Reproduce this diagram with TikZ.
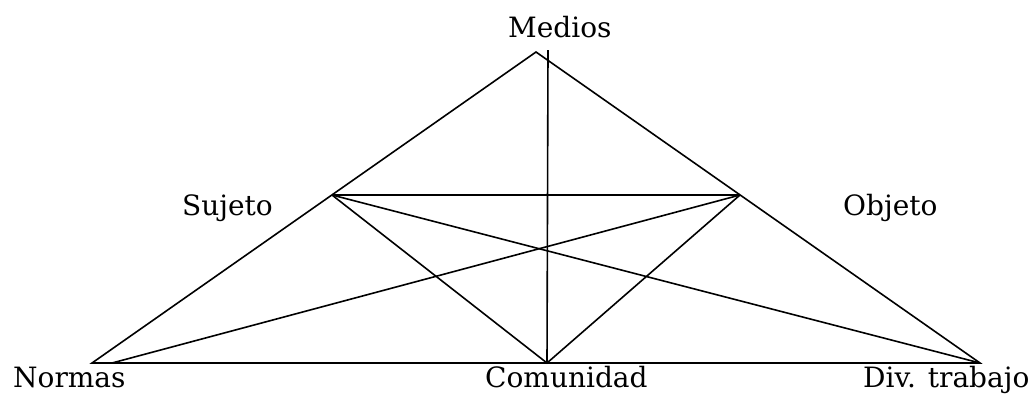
\documentclass[tikz,border=0pt]{standalone}
\usepackage{fontspec}
\setmainfont{DejaVu Serif}
\begin{document}
\begin{tikzpicture}[x=1pt,y=-1pt,
  edge/.style={line width=1.6pt,black},
  lbl/.style={inner sep=0pt,anchor=base west,font=\fontsize{28}{32}\selectfont}]
\useasboundingbox (0,0) rectangle (1028,394);
\coordinate (A) at (536,52);
\coordinate (N) at (92,363);
\coordinate (N2) at (112,363);
\coordinate (C) at (547,363);
\coordinate (D) at (980,363);
\coordinate (S) at (332,195);
\coordinate (O) at (740,195);
\coordinate (T) at (548,50);
\draw[edge] (N) -- (A) -- (D) -- cycle;
\draw[edge] (S) -- (O);
\draw[edge] (S) -- (C) -- (O);
\draw[edge] (S) -- (D);
\draw[edge] (O) -- (N2);
\draw[edge] (T) -- (C);
\node[lbl] (medios) at (508,37) {Medios};
\node[lbl] (sujeto) at (182,215) {Sujeto};
\node[lbl] (objeto) at (843,215) {Objeto};
\node[lbl] (normas) at (13,387) {Normas};
\node[lbl] (comunidad) at (485,387) {Comunidad};
\node[lbl] (div) at (863,387) {Div. trabajo};
\end{tikzpicture}
\end{document}
